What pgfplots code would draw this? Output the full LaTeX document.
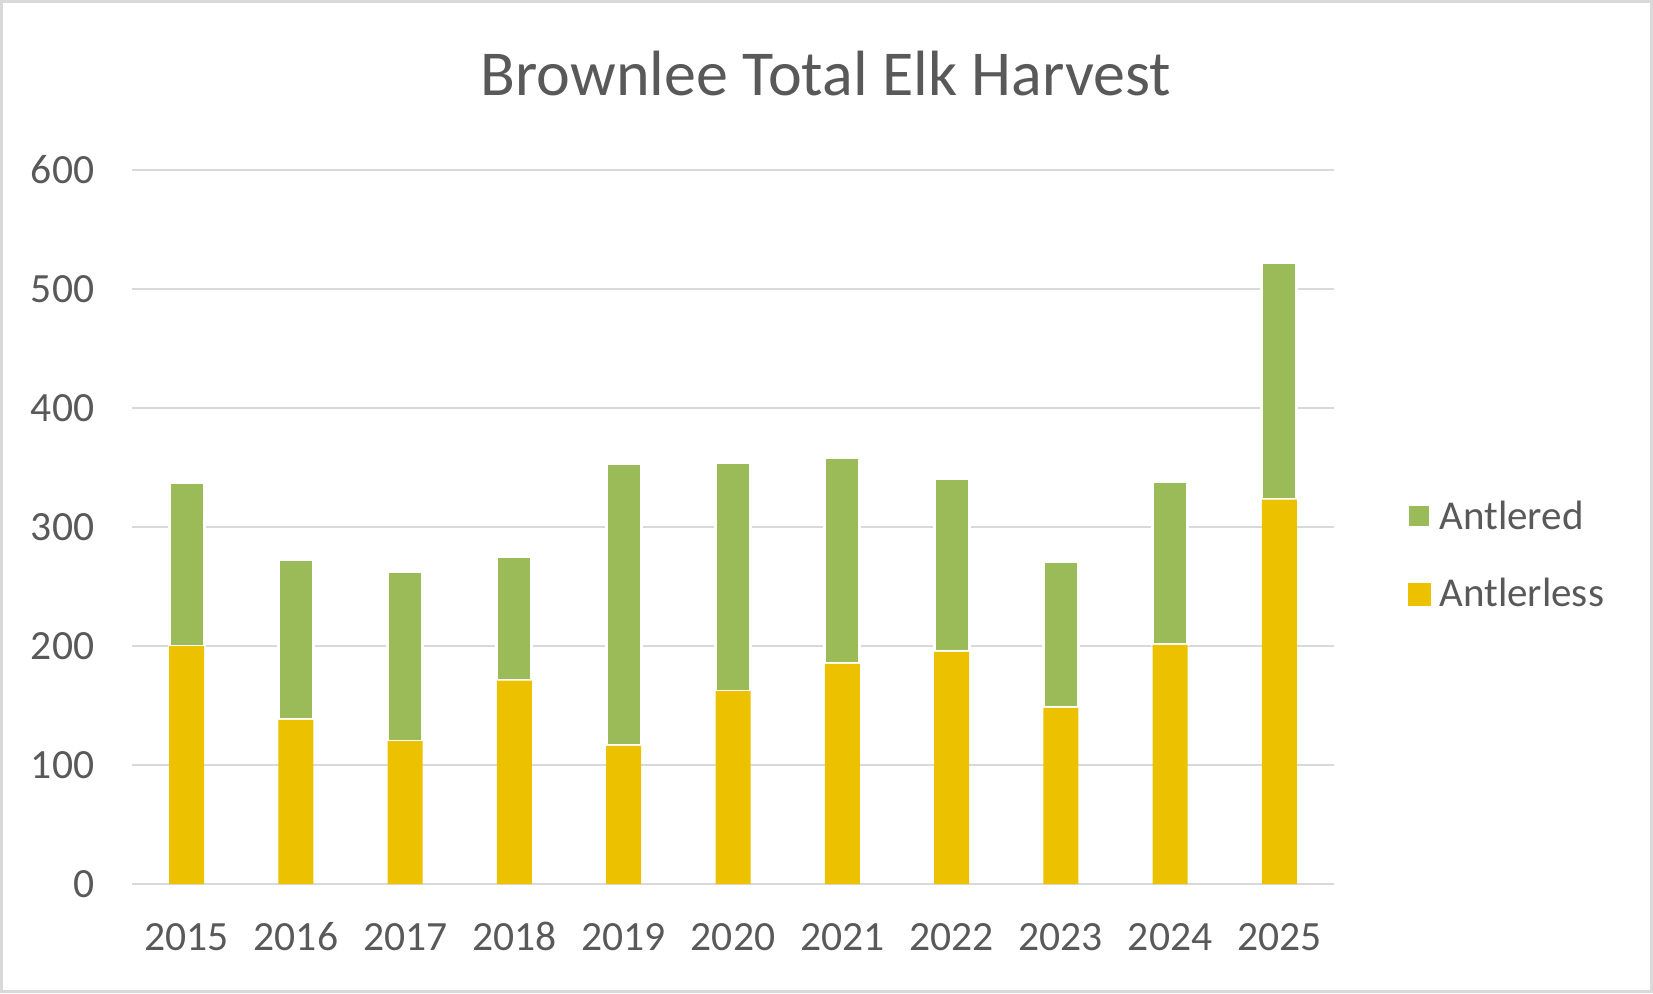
\documentclass[border=0pt]{standalone}
\usepackage{pgfplots}
\pgfplotsset{compat=1.18}
\usepackage{fontspec}
\setmainfont{Carlito}
\definecolor{txt}{HTML}{595959}
\definecolor{grd}{HTML}{D9D9D9}
\definecolor{grn}{HTML}{9BBB59}
\definecolor{ylw}{HTML}{ECC100}
\begin{document}
\begin{tikzpicture}
\draw[grd, line width=1.5pt] (0.75pt,0.75pt) rectangle (825.75pt,495.75pt);
\node[anchor=base, text=txt, font=\fontsize{32}{38}\selectfont, inner sep=0pt] at (413pt,448.6pt) {Brownlee Total Elk Harvest};
\begin{axis}[
  at={(66pt,54.5pt)}, anchor=south west,
  scale only axis, width=601pt, height=357pt,
  ybar stacked, bar width=17.5pt,
  xmin=-0.5, xmax=10.5, ymin=0, ymax=600,
  xtick=data,
  xticklabels={2015,2016,2017,2018,2019,2020,2021,2022,2023,2024,2025},
  ytick={0,100,...,600},
  axis line style={draw=none},
  major tick length=0pt,
  ymajorgrids, grid style={grd, line width=1.3pt},
  /pgf/number format/assume math mode=true,
  tick label style={font=\fontsize{20.8}{24}\selectfont, text=txt, inner sep=0pt},
  xticklabel style={anchor=base, yshift=-33.3pt},
  yticklabel style={anchor=east, xshift=-18.7pt},
  reverse legend,
  legend cell align=left,
  legend image code/.code={\fill[#1] (0pt,-5.75pt) rectangle (11.5pt,5.75pt);},
  legend style={at={(1.0599,0.4605)}, anchor=west, draw=none, fill=none,
    inner sep=0pt, font=\fontsize{20.5}{24}\selectfont, text=txt,
    column sep=3.5pt, row sep=23.2pt,
    nodes={inner sep=0pt}},
]
\addplot[fill=ylw, draw=none] coordinates {(0,200) (1,138) (2,120) (3,171) (4,116) (5,162) (6,185) (7,195) (8,148) (9,201) (10,323)};
\addlegendentry{Antlerless}
\addplot[fill=grn, draw=white, line width=1.5pt] coordinates {(0,137) (1,135) (2,143) (3,104) (4,237) (5,192) (6,173) (7,146) (8,123) (9,137) (10,199)};
\addlegendentry{Antlered}
\end{axis}
\end{tikzpicture}
\end{document}
